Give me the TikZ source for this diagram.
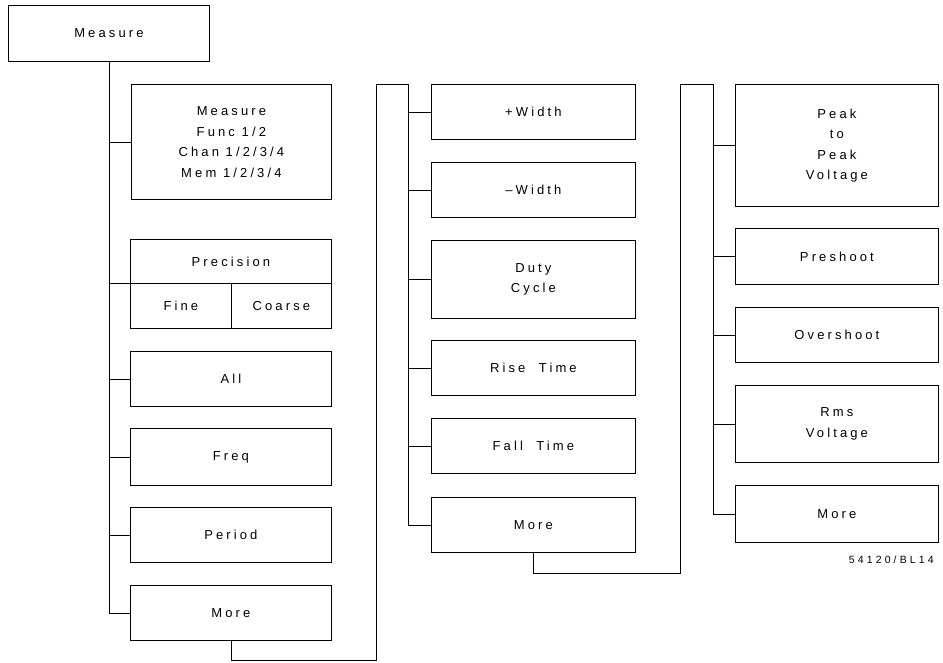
\documentclass[tikz,border=0pt]{standalone}
\usepackage{fontspec}
\setmainfont{Liberation Sans}[LetterSpace=24]
\newfontfamily\labelfont{Liberation Sans}[LetterSpace=30]
\begin{document}
\begin{tikzpicture}[x=1pt,y=-1pt,
  box/.style={draw, line width=0.8pt, rectangle, inner sep=0pt, anchor=north west,
    align=center, font=\fontsize{13}{20.5}\selectfont},
  wire/.style={draw, line width=0.8pt}]
\useasboundingbox (0,0) rectangle (943,662);
% left column
\node[box, minimum width=201pt, minimum height=56pt] (measure) at (8,5) {Measure};
\node[box, minimum width=200pt, minimum height=115pt] (mf) at (131,84) {Measure\\Func 1/2\\Chan 1/2/3/4\\Mem 1/2/3/4};
\node[box, minimum width=201pt, minimum height=44pt] (prec) at (130,239) {Precision};
\node[box, minimum width=101pt, minimum height=45pt] (fine) at (130,283) {Fine};
\node[box, minimum width=100pt, minimum height=45pt] (coarse) at (231,283) {Coarse};
\node[box, minimum width=201pt, minimum height=55pt] (all) at (130,351) {All};
\node[box, minimum width=201pt, minimum height=57pt] (freq) at (130,428) {Freq};
\node[box, minimum width=201pt, minimum height=55pt] (period) at (130,507) {Period};
\node[box, minimum width=201pt, minimum height=55pt] (more1) at (130,585) {More};
% middle column
\node[box, minimum width=204pt, minimum height=55pt] (pw) at (431,84) {+Width};
\node[box, minimum width=204pt, minimum height=55pt] (nw) at (431,162) {\char"2013 Width};
\node[box, minimum width=204pt, minimum height=78pt] (duty) at (431,240) {Duty\\Cycle};
\node[box, minimum width=204pt, minimum height=55pt] (rise) at (431,340) {Rise\ \ Time};
\node[box, minimum width=204pt, minimum height=55pt] (fall) at (431,418) {Fall\ \ Time};
\node[box, minimum width=204pt, minimum height=55pt] (more2) at (431,497) {More};
% right column
\node[box, minimum width=203pt, minimum height=122pt] (ptp) at (735,84) {Peak\\to\\Peak\\Voltage};
\node[box, minimum width=203pt, minimum height=56pt] (pre) at (735,228) {Preshoot};
\node[box, minimum width=203pt, minimum height=55pt] (over) at (735,307) {Overshoot};
\node[box, minimum width=203pt, minimum height=77pt] (rms) at (735,385) {Rms\\Voltage};
\node[box, minimum width=203pt, minimum height=57pt] (more3) at (735,485) {More};
\node[anchor=east, inner sep=0pt, font=\labelfont\fontsize{10.5}{11}\selectfont] (lbl) at (934,560) {54120/BL14};
% coordinates
\coordinate (j1) at (376,660);
\coordinate (t2) at (408,84);
\coordinate (j2) at (680,573);
\coordinate (t3) at (713,84);
% left trunk
\draw[wire] (measure.south) |- (more1.west);
\draw[wire] (measure.south |- mf.west) -- (mf.west);
\draw[wire] (measure.south |- prec.south west) -- (prec.south west);
\draw[wire] (measure.south |- all.west) -- (all.west);
\draw[wire] (measure.south |- freq.west) -- (freq.west);
\draw[wire] (measure.south |- period.west) -- (period.west);
% link 1
\draw[wire] (more1.south) |- (j1) |- (t2);
\draw[wire] (t2) |- (more2.west);
\draw[wire] (t2 |- pw.west) -- (pw.west);
\draw[wire] (t2 |- nw.west) -- (nw.west);
\draw[wire] (t2 |- duty.west) -- (duty.west);
\draw[wire] (t2 |- rise.west) -- (rise.west);
\draw[wire] (t2 |- fall.west) -- (fall.west);
% link 2
\draw[wire] (more2.south) |- (j2) |- (t3);
\draw[wire] (t3) |- (more3.west);
\draw[wire] (t3 |- ptp.west) -- (ptp.west);
\draw[wire] (t3 |- pre.west) -- (pre.west);
\draw[wire] (t3 |- over.west) -- (over.west);
\draw[wire] (t3 |- rms.west) -- (rms.west);
\end{tikzpicture}
\end{document}
